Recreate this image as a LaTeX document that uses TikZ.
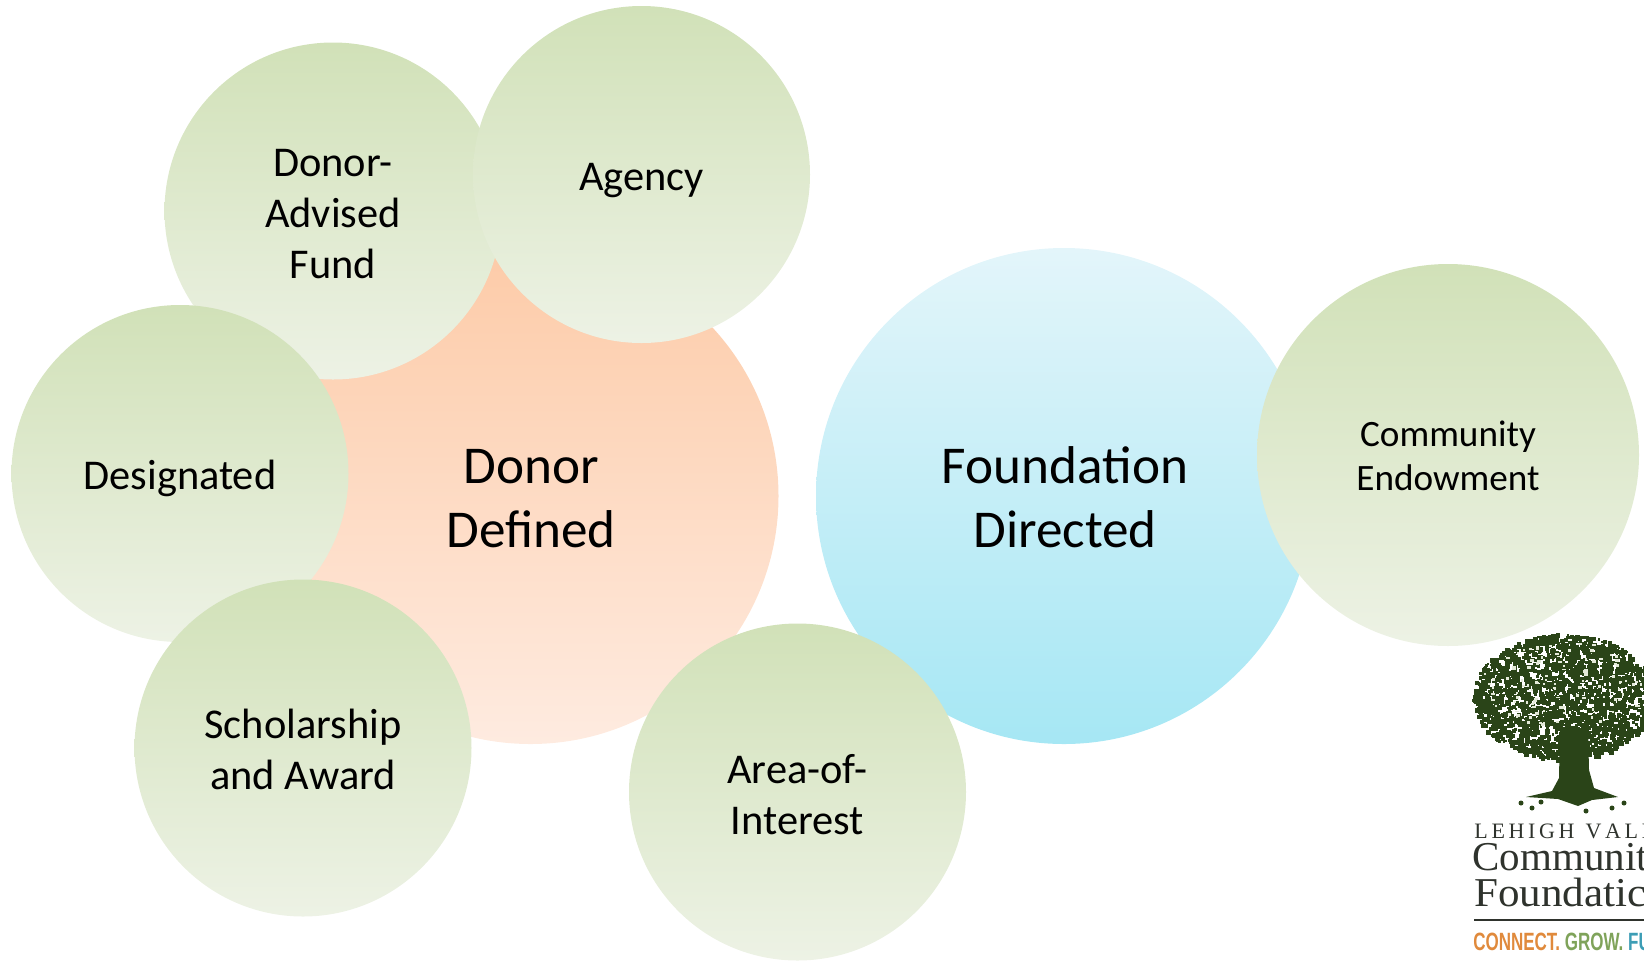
\documentclass[tikz,border=0pt]{standalone}
\usepackage{fontspec}
\setmainfont{Carlito}
\newfontfamily\logoserif{Liberation Serif}
\newfontfamily\logosans{Liberation Sans}
\definecolor{greenTop}{HTML}{D1E1B8}
\definecolor{greenBot}{HTML}{EDF2E5}
\definecolor{orangeTop}{HTML}{FDCBA8}
\definecolor{orangeBot}{HTML}{FEEBE0}
\definecolor{blueTop}{HTML}{E3F5FA}
\definecolor{blueBot}{HTML}{A6E7F4}
\definecolor{treeGreen}{HTML}{2A4418}
\definecolor{treeLight}{HTML}{E4EAD9}
\definecolor{logoInk}{HTML}{2F332D}
\definecolor{logoOrange}{HTML}{E08A3C}
\definecolor{logoGreen}{HTML}{7FA35A}
\definecolor{logoBlue}{HTML}{3C9DB5}
\tikzset{
  bubble/.style={circle,draw=none,inner sep=0pt,align=center,text=black},
  small/.style={bubble,top color=greenTop,bottom color=greenBot,minimum size=168.5pt},
  endow/.style={bubble,top color=greenTop,bottom color=greenBot,minimum size=191pt},
  large/.style={bubble,minimum size=248pt},
  smalltext/.style={inner sep=0pt,align=center,text=black,font=\fontsize{21.2}{25.5}\selectfont},
  endowtext/.style={inner sep=0pt,align=center,text=black,font=\fontsize{18.6}{22.3}\selectfont},
  largetext/.style={inner sep=0pt,align=center,text=black,font=\fontsize{26.6}{32}\selectfont},
  logotext/.style={anchor=base west,inner sep=0pt,text=logoInk}
}
\begin{document}
\begin{tikzpicture}[x=0.5pt,y=-0.5pt]
\useasboundingbox (0,0) rectangle (1644,960);
\node[large,top color=orangeTop,bottom color=orangeBot] (defined) at (530.5,496) {};
\node[largetext] (definedText) at (531,499) {Donor\\Defined};
\node[large,top color=blueTop,bottom color=blueBot] (directed) at (1064,496) {};
\node[largetext] (directedText) at (1065,497) {Foundation\\Directed};
\node[small] (advised) at (333,211) {};
\node[smalltext] (advisedText) at (333,214) {Donor-\\Advised\\Fund};
\node[small] (agency) at (641.5,174.5) {};
\node[smalltext] (agencyText) at (641.5,181) {Agency};
\node[small] (designated) at (180,473.5) {};
\node[smalltext] (designatedText) at (180,478) {Designated};
\node[small] (scholarship) at (303,748) {};
\node[smalltext] (scholarshipText) at (303,749) {Scholarship\\and Award};
\node[small] (interest) at (797.5,792) {};
\node[smalltext] (interestText) at (797.5,795) {Area-of-\\Interest};
\node[endow] (endowment) at (1448,455) {};
\node[endowtext] (endowmentText) at (1448,456) {Community\\Endowment};
\begin{scope}
\clip (1440,620) rectangle (1644,960);
% tree crown
\pgfmathsetseed{4711}
\foreach \i in {1,...,2500}{
  \pgfmathsetmacro{\ang}{360*rnd}
  \pgfmathsetmacro{\rad}{sqrt(rnd)}
  \pgfmathsetmacro{\cx}{1563+91*\rad*cos(\ang)}
  \pgfmathsetmacro{\cy}{696+63*\rad*sin(\ang)}
  \pgfmathsetmacro{\sz}{2+3*rnd}
  \fill[treeGreen] (\cx,\cy) rectangle ++(\sz,\sz);
}
\foreach \i in {1,...,110}{
  \pgfmathsetmacro{\ang}{360*rnd}
  \pgfmathsetmacro{\rad}{sqrt(rnd)}
  \pgfmathsetmacro{\cx}{1563+84*\rad*cos(\ang)}
  \pgfmathsetmacro{\cy}{684+44*\rad*sin(\ang)}
  \pgfmathsetmacro{\sw}{1.5+3*rnd}
  \pgfmathsetmacro{\sh}{1.5+2*rnd}
  \fill[treeLight] (\cx,\cy) rectangle ++(\sw,\sh);
}
% trunk and roots
\fill[treeGreen] (1560,728) -- (1588,728) -- (1589,770) -- (1594,788) -- (1618,797)
  -- (1592,800) -- (1578,806) -- (1558,799) -- (1526,797) -- (1552,791) -- (1559,778) -- cycle;
\foreach \sx/\sy in {1521/803,1532/808,1541/802,1586/811,1612/808,1624/803}
  \fill[treeGreen] (\sx,\sy) circle (2.5);
% wordmark
\node[logotext,font=\logoserif\fontsize{11}{11}\selectfont] (lehigh) at (1474,838) {L\,E\,H\,I\,G\,H\ \ V\,A\,L\,L};
\node[logotext,font=\logoserif\fontsize{20.5}{20.5}\selectfont] (community) at (1472,870) {Communit};
\node[logotext,font=\logoserif\fontsize{20.5}{20.5}\selectfont,xscale=1.05] (foundation) at (1474,906) {Foundatic};
\coordinate (ruleA) at (1474,920);
\coordinate (ruleB) at (1644,920);
\draw[logoInk,line width=0.9pt] (ruleA) -- (ruleB);
\node[anchor=base west,inner sep=0pt,xscale=0.68,font=\logosans\bfseries\fontsize{12.5}{12.5}\selectfont] (tagline) at (1473,950)
  {\textcolor{logoOrange}{CONNECT.}\ \textcolor{logoGreen}{GROW.}\ \textcolor{logoBlue}{FU}};
\end{scope}
\end{tikzpicture}
\end{document}
